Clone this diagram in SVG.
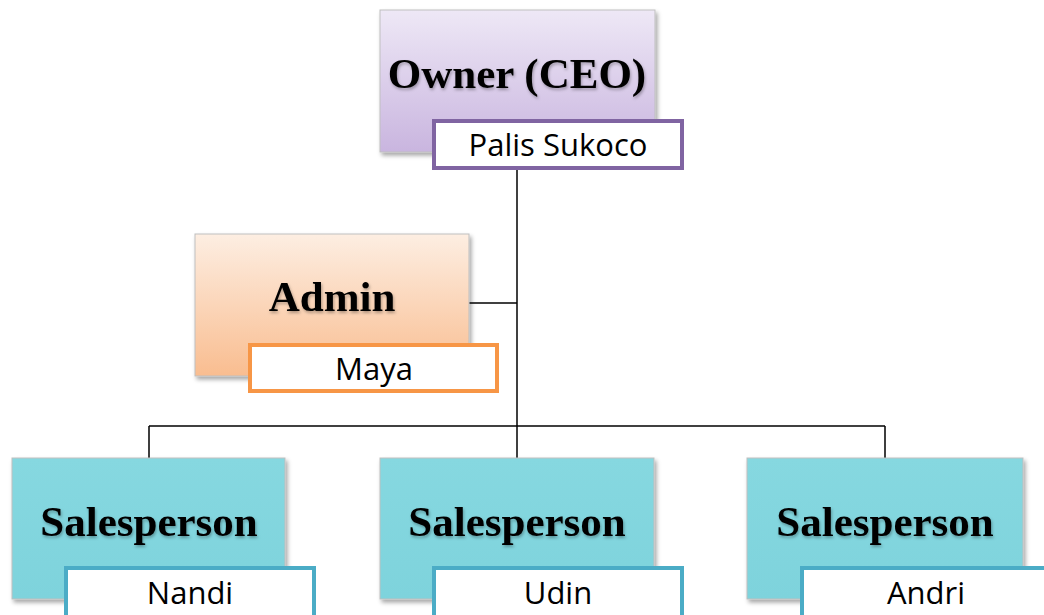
<svg xmlns="http://www.w3.org/2000/svg" width="1044" height="615" viewBox="0 0 1044 615">
<defs>
<linearGradient id="gP" x1="0" y1="0" x2="0" y2="1"><stop offset="0" stop-color="#EEE8F6"/><stop offset="1" stop-color="#C9B5DF"/></linearGradient>
<linearGradient id="gO" x1="0" y1="0" x2="0" y2="1"><stop offset="0" stop-color="#FDEEE2"/><stop offset="1" stop-color="#F9BD90"/></linearGradient>
<linearGradient id="gT" x1="0" y1="0" x2="0" y2="1"><stop offset="0" stop-color="#86D8E0"/><stop offset="1" stop-color="#7ED3DC"/></linearGradient>
<filter id="sh" x="-10%" y="-10%" width="125%" height="125%"><feDropShadow dx="2" dy="3" stdDeviation="2" flood-color="#000" flood-opacity="0.35"/></filter>
<filter id="tsh" x="-10%" y="-20%" width="120%" height="150%"><feDropShadow dx="1" dy="2" stdDeviation="1.5" flood-color="#000" flood-opacity="0.3"/></filter>
</defs>
<style>
.box{stroke:#BFBFBF;stroke-width:1;filter:url(#sh)}
.title{font-family:"Liberation Serif",serif;font-weight:bold;font-size:43px;text-anchor:middle;fill:#000;filter:url(#tsh)}
.name{fill:#fff;stroke-width:4}
.nt{font-family:"Open Sans","Noto Sans",sans-serif;font-size:31px;text-anchor:middle;fill:#000}
.conn{stroke:#000;stroke-width:1.5;fill:none}
</style>
<g id="connectors">
<path class="conn" d="M517 168V458"/>
<path class="conn" d="M469 303H517"/>
<path class="conn" d="M149 426H885"/>
<path class="conn" d="M149 426V458M885 426V458"/>
</g>
<g id="owner">
<rect class="box" x="380" y="10" width="275" height="142" fill="url(#gP)"/>
<text class="title" x="517" y="88">Owner (CEO)</text>
<rect class="name" x="434" y="121" width="248" height="47" stroke="#8064A2"/>
<text class="nt" x="558" y="156">Palis Sukoco</text>
</g>
<g id="admin">
<rect class="box" x="195" y="234" width="274" height="142" fill="url(#gO)"/>
<text class="title" x="332" y="311">Admin</text>
<rect class="name" x="250" y="345" width="247" height="46" stroke="#F79646"/>
<text class="nt" x="374" y="380">Maya</text>
</g>
<g id="sales1">
<rect class="box" x="12" y="458" width="273" height="141" fill="url(#gT)"/>
<text class="title" x="149" y="536">Salesperson</text>
<rect class="name" x="66" y="568" width="248" height="50" stroke="#4BACC6"/>
<text class="nt" x="190" y="604">Nandi</text>
</g>
<g id="sales2">
<rect class="box" x="380" y="458" width="274" height="141" fill="url(#gT)"/>
<text class="title" x="517" y="536">Salesperson</text>
<rect class="name" x="434" y="568" width="248" height="50" stroke="#4BACC6"/>
<text class="nt" x="558" y="604">Udin</text>
</g>
<g id="sales3">
<rect class="box" x="747" y="458" width="276" height="141" fill="url(#gT)"/>
<text class="title" x="885" y="536">Salesperson</text>
<rect class="name" x="802" y="568" width="248" height="50" stroke="#4BACC6"/>
<text class="nt" x="926" y="604">Andri</text>
</g>
</svg>
